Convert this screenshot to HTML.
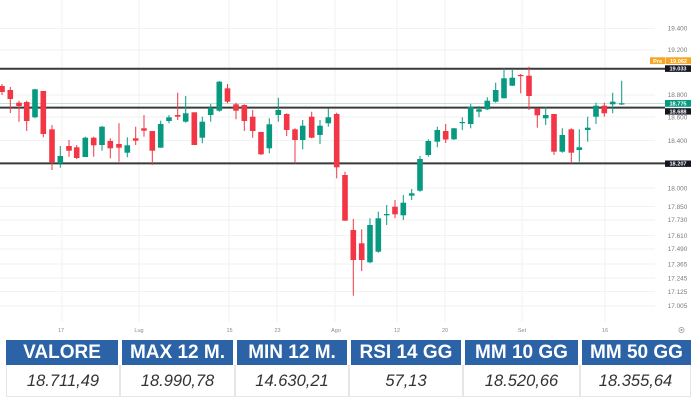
<!DOCTYPE html>
<html><head><meta charset="utf-8">
<style>
html,body{margin:0;padding:0;background:#fff;width:700px;height:400px;overflow:hidden;font-family:"Liberation Sans",sans-serif;}
#c{position:absolute;left:0;top:0;}
.h{position:absolute;top:340px;height:25px;background:#2c63a6;color:#fff;font-weight:bold;font-size:19px;line-height:25px;text-align:center;white-space:nowrap;}
.v{position:absolute;top:365px;height:32px;border:1px solid #e6e6e6;border-top:none;box-sizing:border-box;color:#333;font-style:italic;font-size:16.5px;line-height:33px;text-align:center;white-space:nowrap;}
</style></head><body>
<svg id="c" width="700" height="400" viewBox="0 0 700 400" xmlns="http://www.w3.org/2000/svg">
<g stroke="#f2f2f2" stroke-width="1">
<line x1="62" y1="0" x2="62" y2="322"/><line x1="139" y1="0" x2="139" y2="322"/><line x1="229" y1="0" x2="229" y2="322"/><line x1="277" y1="0" x2="277" y2="322"/><line x1="335" y1="0" x2="335" y2="322"/><line x1="397" y1="0" x2="397" y2="322"/><line x1="445" y1="0" x2="445" y2="322"/><line x1="522" y1="0" x2="522" y2="322"/><line x1="605" y1="0" x2="605" y2="322"/>
<line x1="0" y1="28.5" x2="655" y2="28.5"/><line x1="0" y1="50" x2="655" y2="50"/><line x1="0" y1="95" x2="655" y2="95"/><line x1="0" y1="117" x2="655" y2="117"/><line x1="0" y1="140.5" x2="655" y2="140.5"/><line x1="0" y1="188" x2="655" y2="188"/><line x1="0" y1="206.5" x2="655" y2="206.5"/><line x1="0" y1="220" x2="655" y2="220"/><line x1="0" y1="235.5" x2="655" y2="235.5"/><line x1="0" y1="249" x2="655" y2="249"/><line x1="0" y1="264" x2="655" y2="264"/><line x1="0" y1="278" x2="655" y2="278"/><line x1="0" y1="291.5" x2="655" y2="291.5"/><line x1="0" y1="306" x2="655" y2="306"/>
</g>
<line x1="0" y1="103.5" x2="665" y2="103.5" stroke="#bfe3da" stroke-width="1"/>
<g stroke="#3a3a3a" stroke-width="2">
<line x1="0" y1="68.7" x2="665" y2="68.7"/>
<line x1="0" y1="107.6" x2="665" y2="107.6"/>
<line x1="0" y1="163.4" x2="665" y2="163.4"/>
</g>
<g id="candles"></g>
<g font-family="Liberation Sans, sans-serif" font-size="6.4" fill="#7a7a7a" text-anchor="middle">
<text x="677.5" y="30.5">19.400</text><text x="677.5" y="52">19.200</text><text x="677.5" y="97">18.800</text><text x="677.5" y="119.5">18.600</text><text x="677.5" y="142.8">18.400</text><text x="677.5" y="190.5">18.000</text><text x="677.5" y="208.8">17.850</text><text x="677.5" y="222.2">17.730</text><text x="677.5" y="237.8">17.610</text><text x="677.5" y="251.2">17.490</text><text x="677.5" y="266.5">17.365</text><text x="677.5" y="280.5">17.245</text><text x="677.5" y="293.8">17.125</text><text x="677.5" y="308.2">17.005</text>
</g>
<rect x="650" y="57.3" width="15.5" height="6.8" fill="#f5a623"/>
<rect x="666" y="57.3" width="25" height="6.8" fill="#f5a623"/>
<rect x="665" y="65.3" width="26" height="6.6" fill="#131722"/>
<rect x="665" y="100" width="26" height="6.8" fill="#089981"/>
<rect x="665" y="108.2" width="26" height="6.4" fill="#131722"/>
<rect x="665" y="160.5" width="26" height="6.4" fill="#131722"/>
<g font-family="Liberation Sans, sans-serif" font-size="5.6" fill="#fff" text-anchor="middle" font-weight="bold">
<text x="657.7" y="62.8">Pre</text><text x="678.5" y="62.8">19.062</text><text x="678" y="70.7">19.033</text><text x="678" y="105.5">18.775</text><text x="678" y="113.4">18.688</text><text x="678" y="165.7">18.207</text>
</g>
<g font-family="Liberation Sans, sans-serif" font-size="5.5" fill="#8a8a8a" text-anchor="middle">
<text x="61" y="332">17</text><text x="139" y="332">Lug</text><text x="229.5" y="332">15</text><text x="277.5" y="332">23</text><text x="336" y="332">Ago</text><text x="397" y="332">12</text><text x="445" y="332">20</text><text x="522" y="332">Set</text><text x="605" y="332">16</text>
</g>
<circle cx="681.5" cy="330" r="2.6" fill="none" stroke="#999" stroke-width="0.7"/>
<circle cx="681.5" cy="330" r="1" fill="#999"/>
</svg>
<div class="h" style="left:6px;width:112px;">VALORE</div>
<div class="h" style="left:122px;width:111px;">MAX 12 M.</div>
<div class="h" style="left:237px;width:110px;">MIN 12 M.</div>
<div class="h" style="left:351px;width:110px;">RSI 14 GG</div>
<div class="h" style="left:465px;width:113px;">MM 10 GG</div>
<div class="h" style="left:582px;width:109px;">MM 50 GG</div>
<div class="v" style="left:6px;width:114px;">18.711,49</div>
<div class="v" style="left:120px;width:115px;">18.990,78</div>
<div class="v" style="left:235px;width:114px;">14.630,21</div>
<div class="v" style="left:349px;width:114px;">57,13</div>
<div class="v" style="left:463px;width:117px;">18.520,66</div>
<div class="v" style="left:580px;width:111px;">18.355,64</div>
<script>
var d=[
[2,'r',86,92,84,95],
[10.3,'r',90,99,87,113],[19,'r',102.7,106,100.7,121.7],[26.7,'r',102,121,100.7,131],[35,'g',89.3,117.3,88.7,118.3],[43.3,'r',91,134,91,137.3],[52,'r',129.3,162.3,125,170],[60.3,'g',156,163.3,146,167.7],[69,'r',146,150.7,140,156.7],[76.7,'r',147.3,158,145,159],[85.3,'g',137.7,157,136.7,157],[93.7,'r',137.7,145.3,136.7,156.7],[102,'g',126.7,145,126,150.7],[110.3,'r',141,148.3,138.3,158.3],[119,'r',144,147.7,123.3,161.7],[127.3,'g',145.3,152.7,137.3,157.3],[135.7,'r',138.3,140.7,126.7,145],[144,'r',128.3,130.7,115,136.7],[152.3,'r',131,150.7,131,165],[160.7,'g',124,147.7,120.7,147.7],[169,'g',117.3,121,115,123.3],[177.7,'r',115,116.7,92.7,120],[185.7,'g',113.3,121.7,96,122.7],[194.3,'r',112.3,145,112.3,145],[202.3,'g',121.7,137.7,116.7,143.3],[210.7,'g',107.7,115,104,121.7],[219.3,'g',81.7,110.7,81,111.7],[227.5,'r',88.3,101.7,84,103.3],[236,'r',104.3,110.7,102.7,119.3],[244.3,'r',105,121,104.3,131],[252.7,'r',116.7,131,110,137.7],[261,'r',132,154.3,131.7,155],[269.3,'g',124.3,148.3,118.3,153.3],[278.3,'g',110,115,97.7,121.7],[286.7,'r',114,130,113.3,136],[295,'r',129.3,140,128.3,163.3],[302.7,'g',125.7,140,120,149.3],[311.7,'r',116.7,137.7,111.7,138.3],[320,'g',125.7,135,120,144],[328.3,'g',117.3,123.3,108.3,126.7],[336.7,'r',114,167.3,112.7,178.3],[345,'r',175,220.7,171.7,220.7],[353.3,'r',230,260,219,295.7],[361.7,'r',243.3,260,229.3,271],[370,'g',225,262.3,218.3,263.3],[378.3,'g',218.3,251.7,211.7,252.7],[386.7,'g',214,215.3,205,225],[395,'r',206.7,214.3,200,218.3],[403.3,'g',202.7,215.3,195,220],[411.7,'g',193.3,195.7,189,200],[420,'g',159,190.7,156,191.7],[428.3,'g',141,155,139.3,156.7],[437.3,'g',130,141.7,126.7,147.3],[445.7,'r',131,139.5,124,143],[454,'g',128.3,139.3,128,140],[462.3,'g',122,123,117.3,130],[470.7,'g',106.7,124,104,128.3],[479,'g',109.3,111.7,106,117.3],[487.3,'g',100.7,109.3,97.3,110],[495.7,'g',90,101.7,82.7,102.7],[504,'g',78.3,98.3,68.3,98.3],[512.3,'g',77.7,85.7,70,86],[520.7,'r',75,76.2,74,93.3],[529,'r',75.7,96,66.7,110],[537.3,'r',108.3,115.3,108.3,127.7],[545.7,'g',115,118.3,106.7,125],[554,'r',114,151.7,114,155],[562.3,'g',135,151.7,128.3,152.7],[571.3,'r',129.3,152.7,128.3,163.3],[579.3,'g',147.3,150,129.3,161.7],[587.7,'g',127.7,130,116.7,141.7],[596,'g',105.7,116.7,102.7,124],[604.3,'r',105.7,113.3,102.7,116.7],[612.7,'g',101.7,104.3,92.7,113.3],[621.7,'g',103.3,104.2,80.7,105]
];
var g=document.getElementById('candles'),ns='http://www.w3.org/2000/svg',s='';
d.forEach(function(c){
 var col=c[1]=='r'?'#f23645':'#089981';
 var h=Math.max(c[3]-c[2],1.2);
 s+='<line x1="'+c[0]+'" y1="'+c[4]+'" x2="'+c[0]+'" y2="'+c[5]+'" stroke="'+col+'" stroke-width="1"/>';
 s+='<rect x="'+(c[0]-2.8)+'" y="'+c[2]+'" width="5.6" height="'+h+'" fill="'+col+'"/>';
});
g.innerHTML=s;
</script>
</body></html>
